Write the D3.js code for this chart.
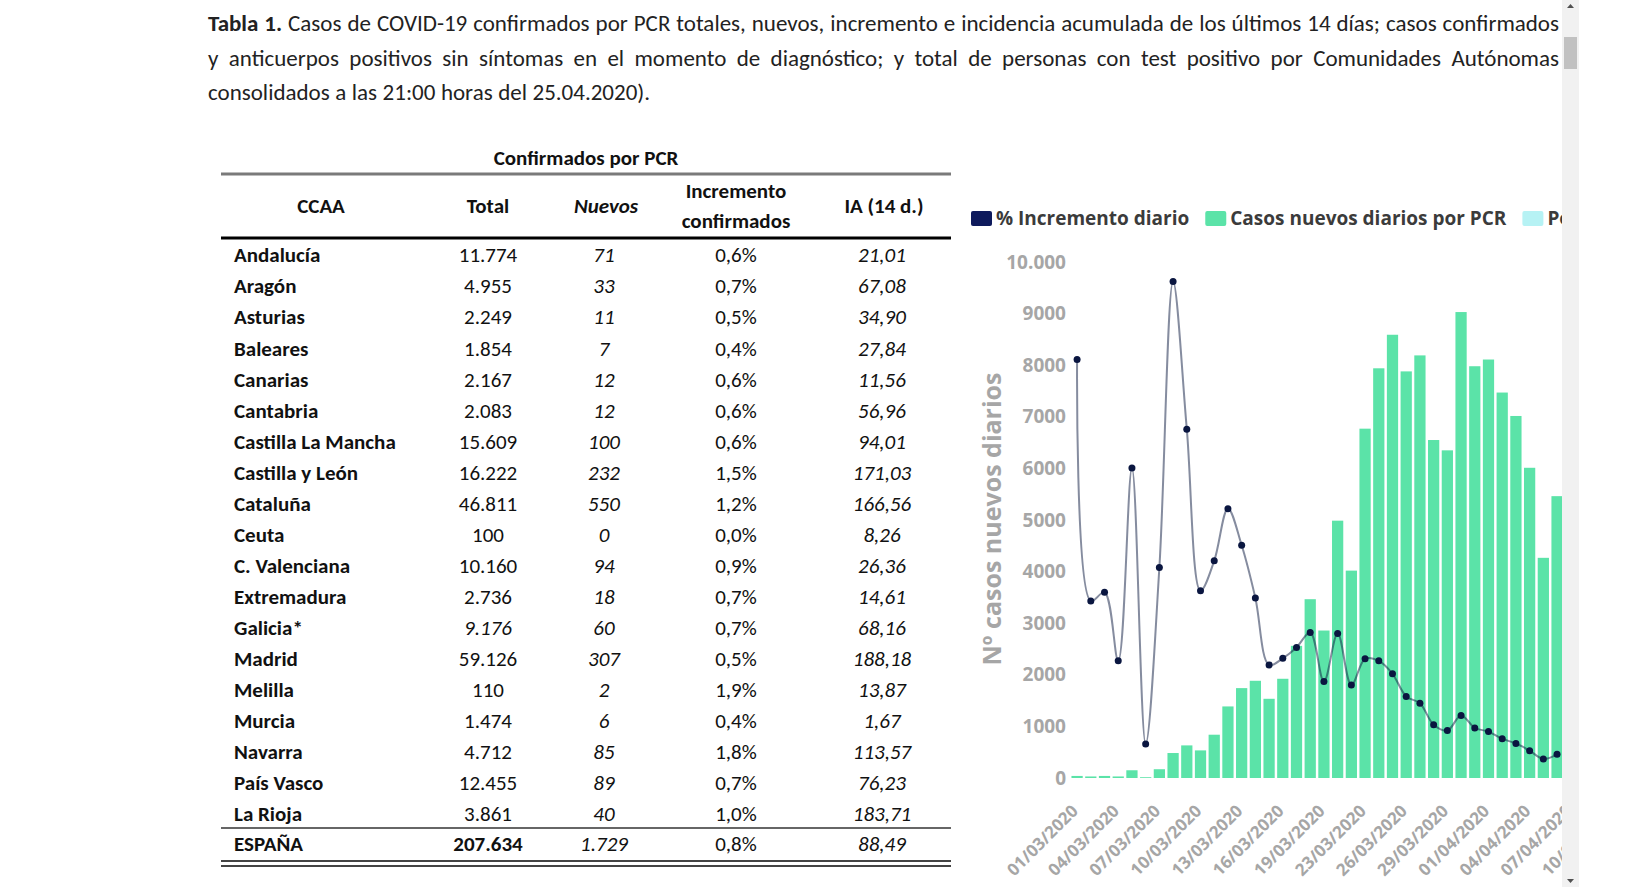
<!DOCTYPE html>
<html>
<head>
<meta charset="utf-8">
<script src="https://cdn.jsdelivr.net/npm/d3@7"></script>
<style>
  html, body { margin: 0; padding: 0; background: #fff; overflow: hidden; }
  #chart { width: 1652px; height: 887px; }
</style>
</head>
<body>
<div id="chart"></div>
<script>
// --- data ---
const titleLines = [
  "Tabla 1. Casos de COVID-19 confirmados por PCR totales, nuevos, incremento e incidencia acumulada de los últimos 14 días; casos confirmados",
  "y anticuerpos positivos sin síntomas en el momento de diagnóstico; y total de personas con test positivo por Comunidades Autónomas",
  "consolidados a las 21:00 horas del 25.04.2020)."
];

const ccaa = ["Andalucía", "Aragón", "Asturias", "Baleares", "Canarias", "Cantabria",
  "Castilla La Mancha", "Castilla y León", "Cataluña", "Ceuta", "C. Valenciana",
  "Extremadura", "Galicia*", "Madrid", "Melilla", "Murcia", "Navarra", "País Vasco", "La Rioja"];
const totalPCR = [11774, 4955, 2249, 1854, 2167, 2083, 15609, 16222, 46811, 100, 10160,
  2736, 9176, 59126, 110, 1474, 4712, 12455, 3861];
const nuevosPCR = [71, 33, 11, 7, 12, 12, 100, 232, 550, 0, 94, 18, 60, 307, 2, 6, 85, 89, 40];
const incrementoPCR = [0.6, 0.7, 0.5, 0.4, 0.6, 0.6, 0.6, 1.5, 1.2, 0.0, 0.9, 0.7, 0.7, 0.5,
  1.9, 0.4, 1.8, 0.7, 1.0];
const ia14 = [21.01, 67.08, 34.90, 27.84, 11.56, 56.96, 94.01, 171.03, 166.56, 8.26, 26.36,
  14.61, 68.16, 188.18, 13.87, 1.67, 113.57, 76.23, 183.71];
const espanaRow = ["ESPAÑA", 207634, 1729, 0.8, 88.49];

const fechas = ["01/03/2020", "02/03/2020", "03/03/2020", "04/03/2020", "05/03/2020",
  "06/03/2020", "07/03/2020", "08/03/2020", "09/03/2020", "10/03/2020", "11/03/2020",
  "12/03/2020", "13/03/2020", "14/03/2020", "15/03/2020", "16/03/2020", "17/03/2020",
  "18/03/2020", "19/03/2020", "21/03/2020", "22/03/2020", "23/03/2020", "24/03/2020",
  "25/03/2020", "26/03/2020", "27/03/2020", "28/03/2020", "29/03/2020", "30/03/2020",
  "31/03/2020", "01/04/2020", "02/04/2020", "03/04/2020", "04/04/2020", "05/04/2020",
  "06/04/2020", "07/04/2020", "08/04/2020", "09/04/2020", "10/04/2020"];
// only the days visible before the frame edge
const casosNuevos = [40, 30, 40, 30, 150, 15, 170, 484, 632, 535, 839, 1387, 1742, 1884,
  1535, 1923, 2561, 3465, 2858, 4987, 4019, 6770, 7940, 8590, 7880, 8190, 6550, 6350,
  9030, 7980, 8110, 7470, 7016, 6012, 4267, 5462];
const incrementoDiario = [81.1, 34.3, 36.0, 22.7, 60.1, 6.6, 40.8, 96.2, 67.6, 36.3, 42.1,
  52.2, 45.1, 34.9, 21.9, 23.2, 25.3, 28.2, 18.7, 28.0, 18.0, 23.1, 22.7, 20.2, 15.8, 14.5,
  10.3, 9.2, 12.1, 9.7, 9.0, 7.6, 6.7, 5.3, 3.7, 4.6];
const yTicks = [0, 1000, 2000, 3000, 4000, 5000, 6000, 7000, 8000, 9000, 10000];
const legendItems = [
  { label: "% Incremento diario", color: "#0e1a5c" },
  { label: "Casos nuevos diarios por PCR", color: "#5be3a8" },
  { label: "Positivos por test de anticuerpos", color: "#b6f2f4" }
];

// --- setup ---
const W = 1652, H = 887, VIEW_W = 1562;
const narrow = '"Carlito", "Liberation Sans Narrow", "Arial Narrow", Lato, "Noto Sans", sans-serif';
const sans = '"Open Sans", "Noto Sans", sans-serif';
const es = d3.formatLocale({ decimal: ",", thousands: ".", grouping: [3], currency: ["", "€"] });
const fmtInt = es.format(",d");
const fmtPct = (v) => es.format(".1f")(v) + "%";
const fmtIA = es.format(".2f");

const svg = d3.select("#chart").append("svg").attr("width", W).attr("height", H);
svg.append("defs").append("clipPath").attr("id", "view")
  .append("rect").attr("width", VIEW_W).attr("height", H);
const g = svg.append("g").attr("clip-path", "url(#view)");

// --- title, justified word by word ---
const titleG = g.append("g").attr("font-family", narrow).attr("font-size", 23).attr("fill", "#222");
const titleLeft = 208, titleWidth = 1351;
titleLines.forEach((line, i) => {
  const words = line.split(" ");
  const texts = titleG.selectAll(null).data(words).enter().append("text")
    .attr("y", 31 + i * 34.5)
    .attr("font-weight", (d, j) => (i === 0 && j < 2 ? "bold" : null))
    .text((d) => d);
  const widths = texts.nodes().map((n) => n.getComputedTextLength());
  const last = i === titleLines.length - 1;
  const gap = last ? 5.5 : (titleWidth - d3.sum(widths)) / (words.length - 1);
  let x = titleLeft;
  texts.attr("x", (d, j) => {
    const xx = x;
    x += widths[j] + gap;
    return xx;
  });
});

// --- table ---
const tab = g.append("g").attr("font-family", narrow).attr("font-size", 21).attr("fill", "#111");
const col = { name: 234, total: 488, nuevos: 604, incr: 736, ia: 882 };
const rowY = (i) => 255 + i * 31.05;
const tL = 221, tR = 951;

tab.append("text").attr("x", 586).attr("y", 158).attr("dy", "0.35em")
  .attr("text-anchor", "middle").attr("font-weight", 600).text("Confirmados por PCR");
tab.append("line").attr("x1", tL).attr("x2", tR).attr("y1", 174).attr("y2", 174)
  .attr("stroke", "#7a7a7a").attr("stroke-width", 3);

const head = tab.append("g").attr("text-anchor", "middle").attr("font-weight", 600);
head.append("text").attr("x", 321).attr("y", 206).attr("dy", "0.35em").text("CCAA");
head.append("text").attr("x", col.total).attr("y", 206).attr("dy", "0.35em").text("Total");
head.append("text").attr("x", col.nuevos + 2).attr("y", 206).attr("dy", "0.35em")
  .attr("font-style", "italic").text("Nuevos");
head.append("text").attr("x", col.incr).attr("y", 191).attr("dy", "0.35em").text("Incremento");
head.append("text").attr("x", col.incr).attr("y", 221).attr("dy", "0.35em").text("confirmados");
head.append("text").attr("x", 884).attr("y", 206).attr("dy", "0.35em").text("IA (14 d.)");
tab.append("line").attr("x1", tL).attr("x2", tR).attr("y1", 238).attr("y2", 238)
  .attr("stroke", "#000").attr("stroke-width", 3);

const rows = tab.selectAll("g.row").data(ccaa).enter().append("g")
  .attr("class", "row")
  .attr("transform", (d, i) => `translate(0,${rowY(i)})`);
rows.append("text").attr("x", col.name).attr("dy", "0.35em").attr("font-weight", "bold")
  .text((d) => d);
rows.append("text").attr("x", col.total).attr("dy", "0.35em").attr("text-anchor", "middle")
  .attr("font-style", (d) => (d === "Galicia*" ? "italic" : null))
  .text((d, i) => fmtInt(totalPCR[i]));
rows.append("text").attr("x", col.nuevos).attr("dy", "0.35em").attr("text-anchor", "middle")
  .attr("font-style", "italic").text((d, i) => nuevosPCR[i]);
rows.append("text").attr("x", col.incr).attr("dy", "0.35em").attr("text-anchor", "middle")
  .text((d, i) => fmtPct(incrementoPCR[i]));
rows.append("text").attr("x", col.ia).attr("dy", "0.35em").attr("text-anchor", "middle")
  .attr("font-style", "italic").text((d, i) => fmtIA(ia14[i]));

tab.append("line").attr("x1", tL).attr("x2", tR).attr("y1", 828).attr("y2", 828)
  .attr("stroke", "#666").attr("stroke-width", 2);
const tot = tab.append("g").attr("transform", "translate(0,844)");
tot.append("text").attr("x", col.name).attr("dy", "0.35em").attr("font-weight", "bold").text(espanaRow[0]);
tot.append("text").attr("x", col.total).attr("dy", "0.35em").attr("text-anchor", "middle")
  .attr("font-weight", "bold").text(fmtInt(espanaRow[1]));
tot.append("text").attr("x", col.nuevos).attr("dy", "0.35em").attr("text-anchor", "middle")
  .attr("font-style", "italic").text(fmtInt(espanaRow[2]));
tot.append("text").attr("x", col.incr).attr("dy", "0.35em").attr("text-anchor", "middle")
  .text(fmtPct(espanaRow[3]));
tot.append("text").attr("x", col.ia).attr("dy", "0.35em").attr("text-anchor", "middle")
  .attr("font-style", "italic").text(fmtIA(espanaRow[4]));
[861, 866].forEach((y) => {
  tab.append("line").attr("x1", tL).attr("x2", tR).attr("y1", y).attr("y2", y)
    .attr("stroke", "#444").attr("stroke-width", 2);
});

// --- combo chart ---
const chart = g.append("g").attr("font-family", sans);
const x = d3.scaleBand().domain(fechas).range([1069, 1620]).padding(0.18);
const y = d3.scaleLinear().domain([0, 10000]).range([778, 262]);
const y2 = d3.scaleLinear().domain([0, 100]).range([778, 262]); // hidden right axis (%)
const cx = (i) => x(fechas[i]) + x.bandwidth() / 2;

chart.append("g").selectAll("rect").data(casosNuevos).enter().append("rect")
  .attr("x", (d, i) => x(fechas[i]))
  .attr("width", x.bandwidth())
  .attr("y", (d) => y(d))
  .attr("height", (d) => y(0) - y(d))
  .attr("fill", "#5be3a8");

const line = d3.line().x((d, i) => cx(i)).y((d) => y2(d)).curve(d3.curveCatmullRom.alpha(0.5));
chart.append("path").datum(incrementoDiario).attr("d", line)
  .attr("fill", "none").attr("stroke", "#0b1a40").attr("stroke-opacity", 0.5)
  .attr("stroke-width", 2);
chart.append("g").selectAll("circle").data(incrementoDiario).enter().append("circle")
  .attr("cx", (d, i) => cx(i)).attr("cy", (d) => y2(d)).attr("r", 3.5)
  .attr("fill", "#0a1640");

// y axis labels (no line)
const yAxis = chart.append("g").attr("transform", "translate(1066,0)")
  .call(d3.axisLeft(y).tickValues(yTicks).tickSize(0).tickPadding(0)
    .tickFormat((d) => (d >= 10000 ? fmtInt(d) : d)));
yAxis.select(".domain").remove();
yAxis.selectAll("text").attr("font-family", sans).attr("font-size", 19)
  .attr("font-weight", 700).attr("fill", "#a6a6a6");

// x axis labels, every third day
const xAxis = chart.append("g").attr("transform", "translate(0,786)")
  .call(d3.axisBottom(x).tickValues(fechas.filter((d, i) => i % 3 === 0)).tickSize(0));
xAxis.select(".domain").remove();
xAxis.selectAll("text")
  .attr("font-family", sans).attr("font-size", 17).attr("font-weight", 700).attr("fill", "#a6a6a6")
  .attr("text-anchor", "end").attr("dy", null).attr("y", 0)
  .attr("transform", "translate(2,26) rotate(-45)");

chart.append("text").attr("transform", "translate(992,519) rotate(-90)")
  .attr("text-anchor", "middle").attr("dy", "0.35em")
  .attr("font-size", 25).attr("font-weight", 700).attr("fill", "#a6a6a6")
  .text("Nº casos nuevos diarios");

// legend
const legend = chart.append("g").attr("font-size", 19).attr("font-weight", 700).attr("fill", "#3b3b3b");
let lx = 971;
legendItems.forEach((item) => {
  legend.append("rect").attr("x", lx).attr("y", 211).attr("width", 21).attr("height", 15)
    .attr("rx", 2).attr("fill", item.color);
  const t = legend.append("text").attr("x", lx + 25).attr("y", 218).attr("dy", "0.35em").text(item.label);
  lx += 25 + t.node().getComputedTextLength() + 16;
});

// --- browser scrollbar at the frame edge ---
const sb = svg.append("g");
sb.append("rect").attr("x", VIEW_W).attr("y", 0).attr("width", 17).attr("height", H).attr("fill", "#f1f1f1");
sb.append("rect").attr("x", VIEW_W + 2).attr("y", 37).attr("width", 13).attr("height", 32).attr("fill", "#c1c1c1");
sb.append("path").attr("d", `M${VIEW_W + 5},8 L${VIEW_W + 12},8 L${VIEW_W + 8.5},4 Z`).attr("fill", "#505050");
sb.append("path").attr("d", `M${VIEW_W + 5},879 L${VIEW_W + 12},879 L${VIEW_W + 8.5},883 Z`).attr("fill", "#505050");
</script>
</body>
</html>
